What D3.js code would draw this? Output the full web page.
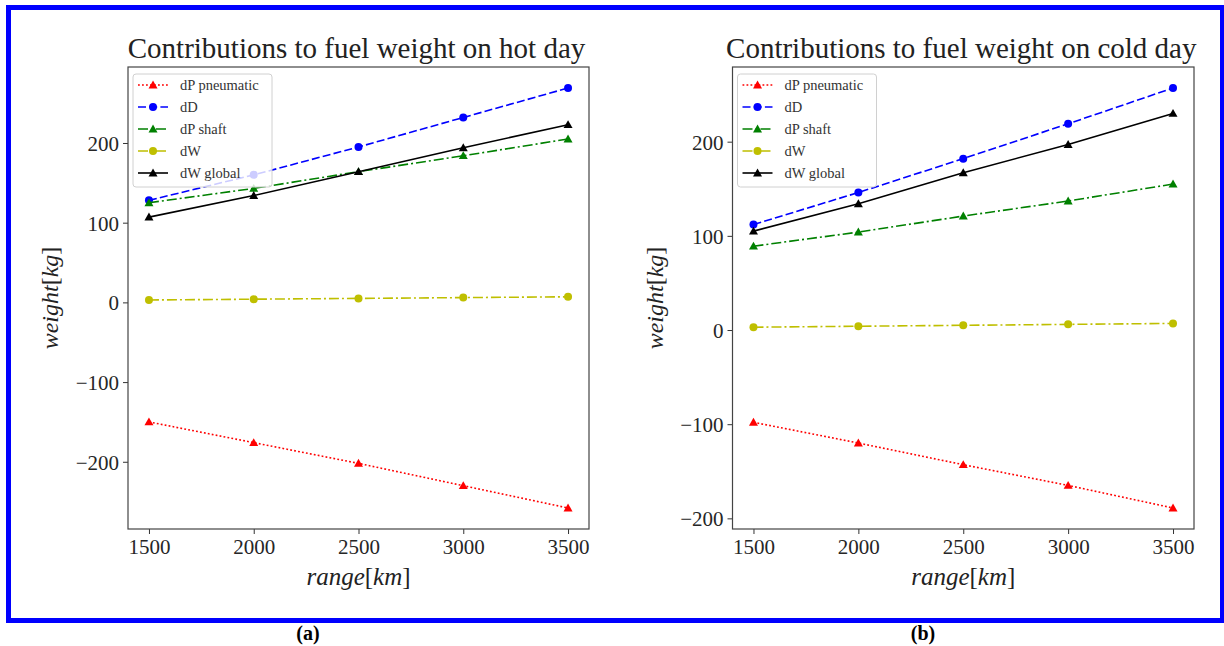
<!DOCTYPE html>
<html>
<head>
<meta charset="utf-8">
<script src="https://cdn.jsdelivr.net/npm/d3@7"></script>
<style>
  body { margin: 0; background: #fff; }
  svg text { font-family: "Liberation Serif", "DejaVu Serif", serif; }
</style>
</head>
<body>
<div id="chart"></div>
<script>
// ranges on the x axis (km)
var ranges = [1500, 2000, 2500, 3000, 3500];
var seriesNames = ["dP pneumatic", "dD", "dP shaft", "dW", "dW global"];

// hot day (a)
var hotPneumatic = [-150, -176, -202, -230, -258];
var hotDrag      = [128, 160, 195, 232, 269];
var hotShaft     = [125, 143, 164, 184, 205];
var hotWeight    = [3, 4, 5, 6, 7];
var hotGlobal    = [107, 134, 164, 194, 223];

// cold day (b)
var coldPneumatic = [-98, -120, -143, -165, -189];
var coldDrag      = [112, 146, 182, 219, 257];
var coldShaft     = [89, 104, 121, 137, 155];
var coldWeight    = [3, 4, 5, 6, 7];
var coldGlobal    = [105, 134, 167, 197, 230];

var xTicks = [1500, 2000, 2500, 3000, 3500];
var hotYTicks = [-200, -100, 0, 100, 200];
var coldYTicks = [-200, -100, 0, 100, 200];

canWidth = 1224;
canHeight = 646;

// style for each series: colour, dash, marker
var styles = [
    { color: "#ff0000", dash: "1.8,2.2", marker: "tri" },
    { color: "#0000ff", dash: "8,3.2",   marker: "circle" },
    { color: "#008000", dash: "10,3,2,3", marker: "tri" },
    { color: "#bfbf00", dash: "10,3,2,3", marker: "circle" },
    { color: "#000000", dash: null,       marker: "tri" }
];

var svg = d3.select("#chart")
    .append("svg")
    .attr("width", canWidth)
    .attr("height", canHeight);

svg.append("rect")
    .attr("width", canWidth)
    .attr("height", canHeight)
    .attr("fill", "white");

// blue frame round both panels
svg.append("rect")
    .attr("x", 8.5)
    .attr("y", 7.5)
    .attr("width", 1214)
    .attr("height", 613)
    .attr("fill", "none")
    .attr("stroke", "#0000ff")
    .attr("stroke-width", 5);

function drawMarker(g, type, x, y, color) {
    if (type == "circle") {
        g.append("circle")
            .attr("cx", x)
            .attr("cy", y)
            .attr("r", 4)
            .attr("fill", color);
    } else {
        var s = 4.5;
        g.append("path")
            .attr("d", "M" + x + "," + (y - s) + "L" + (x + s) + "," + (y + s * 0.75) + "L" + (x - s) + "," + (y + s * 0.75) + "Z")
            .attr("fill", color);
    }
}

function drawPanel(p) {
    var left = p.left, right = p.right, top = 67, bottom = 529;

    var x = d3.scaleLinear()
        .domain([1400, 3600])
        .range([left, right]);

    var all = d3.merge(p.series);
    var lo = d3.min(all), hi = d3.max(all), pad = (hi - lo) * 0.05;
    var y = d3.scaleLinear()
        .domain([lo - pad, hi + pad])
        .range([bottom, top]);

    var g = svg.append("g");

    // axes
    var xAxis = g.append("g")
        .attr("transform", "translate(0," + bottom + ")")
        .call(d3.axisBottom(x).tickValues(xTicks).tickSize(5).tickPadding(5).tickFormat(d3.format("d")));
    var yAxis = g.append("g")
        .attr("transform", "translate(" + left + ",0)")
        .call(d3.axisLeft(y).tickValues(p.yTicks).tickSize(5).tickPadding(4)
            .tickFormat(function (d) { return d < 0 ? "\u2212" + Math.abs(d) : d; }));

    [xAxis, yAxis].forEach(function (a) {
        a.select(".domain").remove();
        a.selectAll("line").attr("stroke", "#333").attr("stroke-width", 1);
        a.selectAll("text")
            .attr("fill", "#262626")
            .attr("font-size", 21)
            .style("font-family", "Liberation Serif, serif");
    });
    yAxis.selectAll("text").attr("dy", "0.36em");
    xAxis.selectAll("text").attr("dy", "0.72em");

    // series lines
    var line = d3.line()
        .x(function (d, i) { return x(ranges[i]); })
        .y(function (d) { return y(d); });

    for (let i = 0; i < p.series.length; i++) {
        var st = styles[i];
        g.append("path")
            .datum(p.series[i])
            .attr("d", line)
            .attr("fill", "none")
            .attr("stroke", st.color)
            .attr("stroke-width", 1.6)
            .attr("stroke-dasharray", st.dash);
        for (let j = 0; j < ranges.length; j++) {
            drawMarker(g, st.marker, x(ranges[j]), y(p.series[i][j]), st.color);
        }
    }

    // frame
    g.append("rect")
        .attr("x", left)
        .attr("y", top)
        .attr("width", right - left)
        .attr("height", bottom - top)
        .attr("fill", "none")
        .attr("stroke", "#444")
        .attr("stroke-width", 1.2);

    // legend
    var lg = g.append("g").attr("transform", "translate(" + (left + 5) + "," + (top + 7) + ")");
    lg.append("rect")
        .attr("width", 139)
        .attr("height", 113)
        .attr("rx", 3)
        .attr("fill", "white")
        .attr("fill-opacity", 0.8)
        .attr("stroke", "#d0d0d0")
        .attr("stroke-width", 1);
    for (let i = 0; i < seriesNames.length; i++) {
        var st = styles[i];
        var ly = 11 + i * 22;
        lg.append("line")
            .attr("x1", 5)
            .attr("x2", 35)
            .attr("y1", ly)
            .attr("y2", ly)
            .attr("stroke", st.color)
            .attr("stroke-width", 1.6)
            .attr("stroke-dasharray", st.dash);
        drawMarker(lg, st.marker, 20, ly, st.color);
        lg.append("text")
            .attr("x", 47)
            .attr("y", ly)
            .attr("dy", "0.33em")
            .attr("font-size", 14.5)
            .attr("fill", "#333")
            .text(seriesNames[i]);
    }

    // title
    var cx = (left + right) / 2;
    g.append("text")
        .attr("x", cx - 2)
        .attr("y", 58)
        .attr("text-anchor", "middle")
        .attr("font-size", 29)
        .attr("fill", "#222")
        .text(p.title);

    // x label
    var xl = g.append("text")
        .attr("x", cx)
        .attr("y", 585)
        .attr("text-anchor", "middle")
        .attr("font-size", 25)
        .attr("fill", "#222");
    xl.append("tspan").attr("font-style", "italic").text("range");
    xl.append("tspan").text("[");
    xl.append("tspan").attr("font-style", "italic").text("km");
    xl.append("tspan").text("]");

    // y label
    var yl = g.append("text")
        .attr("transform", "translate(" + (left - 70) + "," + ((top + bottom) / 2) + ") rotate(-90)")
        .attr("text-anchor", "middle")
        .attr("font-size", 24)
        .attr("fill", "#222");
    yl.append("tspan").attr("font-style", "italic").text("weight");
    yl.append("tspan").text("[");
    yl.append("tspan").attr("font-style", "italic").text("kg");
    yl.append("tspan").text("]");

    // panel tag under the frame
    svg.append("text")
        .attr("x", p.tagX)
        .attr("y", 640)
        .attr("text-anchor", "middle")
        .attr("font-size", 20)
        .attr("font-weight", "bold")
        .attr("fill", "black")
        .text(p.tag);
}

drawPanel({
    left: 128, right: 589,
    title: "Contributions to fuel weight on hot day",
    series: [hotPneumatic, hotDrag, hotShaft, hotWeight, hotGlobal],
    yTicks: hotYTicks,
    tag: "(a)", tagX: 308
});

drawPanel({
    left: 732.5, right: 1194,
    title: "Contributions to fuel weight on cold day",
    series: [coldPneumatic, coldDrag, coldShaft, coldWeight, coldGlobal],
    yTicks: coldYTicks,
    tag: "(b)", tagX: 923
});
</script>
</body>
</html>
